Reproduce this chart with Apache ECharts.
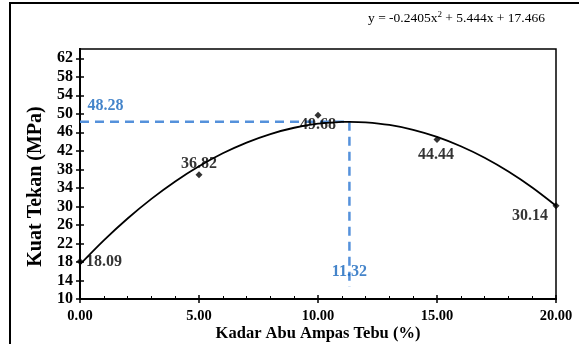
<!DOCTYPE html>
<html>
<head>
<meta charset="utf-8">
<script src="https://cdn.jsdelivr.net/npm/echarts@6/dist/echarts.min.js"></script>
<style>html,body{margin:0;padding:0;background:#fff}#c{width:579px;height:344px}</style>
</head>
<body>
<div id="c"></div>
<script>
// Measured points
const xValues = [0, 5, 10, 15, 20];
const yValues = [18.09, 36.82, 49.68, 44.44, 30.14];
const pointLabels = ['18.09', '36.82', '49.68', '44.44', '30.14'];
// Trend curve
const curveX = [0, 1, 2, 3, 4, 5, 6, 7, 8, 9, 10, 11, 11.32, 12, 13, 14, 15, 16, 17, 18, 19, 20];
const curveY = [17.47, 22.67, 27.39, 31.63, 35.40, 38.67, 41.47, 43.79, 45.63, 46.99, 47.86, 48.25, 48.28, 48.17, 47.60, 46.55, 45.02, 43.00, 40.52, 37.54, 34.09, 30.15];
// Optimum
const optX = 11.32;
const optY = 48.28;
const optLineBottom = 12.6;
// Axes
const yTicks = [10, 14, 18, 22, 26, 30, 34, 38, 42, 46, 50, 54, 58, 62];
const xTicks = [0, 5, 10, 15, 20];
const xTickLabels = ['0.00', '5.00', '10.00', '15.00', '20.00'];
const xName = 'Kadar Abu Ampas Tebu (%)';
const yName = 'Kuat Tekan (MPa)';

const FONT = '"Liberation Serif", "Times New Roman", serif';
const BLUE = '#5591db';
const BLUE_TXT = '#1565bd';

const labelOffsets = [[24, 0], [0, -11], [0, 10], [-1, 15], [-26, 10]];

const chart = echarts.init(document.getElementById('c'), null, {renderer: 'canvas'});
const axisCommon = {
  type: 'value',
  axisLine: {show: true, lineStyle: {color: '#000', width: 2}},
  splitLine: {show: false}
};
const option = {
  animation: false,
  backgroundColor: '#fff',
  grid: {left: 80, right: 23, top: 49, bottom: 45, outerBoundsMode: 'none', containLabel: false, show: true, borderColor: '#000', borderWidth: 1.5, backgroundColor: 'transparent'},
  xAxis: [
    Object.assign({}, axisCommon, {
      min: 0, max: 20, interval: 5,
      axisTick: {show: true, length: 4, lineStyle: {color: '#000', width: 1.5}, customValues: xTicks},
      axisLabel: {customValues: xTicks, formatter: v => xTickLabels[xTicks.indexOf(v)], color: '#000', fontFamily: FONT, fontWeight: 'bold', fontSize: 14.5, margin: 10}
    }),
    Object.assign({}, axisCommon, {
      min: 0, max: 20, interval: 5, position: 'bottom',
      axisTick: {show: true, inside: true, length: 4, lineStyle: {color: '#000', width: 1.5}},
      minorTick: {show: true, splitNumber: 5, length: 3, lineStyle: {color: '#000', width: 1}},
      axisLabel: {show: false}
    })
  ],
  yAxis: [
    Object.assign({}, axisCommon, {
      min: 10, max: 64, interval: 4,
      axisTick: {show: true, length: 4, lineStyle: {color: '#000', width: 1.5}, customValues: yTicks},
      axisLabel: {customValues: yTicks, color: '#000', fontFamily: FONT, fontWeight: 'bold', fontSize: 16, margin: 7}
    }),
    Object.assign({}, axisCommon, {
      min: 10, max: 64, interval: 4, position: 'left',
      axisTick: {show: true, inside: true, length: 4, lineStyle: {color: '#000', width: 1.5}, customValues: yTicks},
      axisLabel: {show: false}
    })
  ],
  graphic: [
    {type: 'rect', shape: {x: 10, y: 3, width: 800, height: 600}, style: {fill: 'none', stroke: '#000', lineWidth: 2}, silent: true},
    {type: 'text', x: 35.5, y: 186.5, rotation: Math.PI / 2, style: {
      text: yName, align: 'center', verticalAlign: 'middle',
      fontFamily: FONT, fontWeight: 'bold', fontSize: 20, fill: '#000'
    }},
    {type: 'text', x: 318, y: 334, style: {
      text: xName, align: 'center', verticalAlign: 'middle',
      fontFamily: FONT, fontWeight: 'bold', fontSize: 16.5, fill: '#000'
    }},
    {type: 'text', left: 368, top: 10, style: {
      text: '{a|y = -0.2405x}{s|2}{a| + 5.444x + 17.466}',
      rich: {
        a: {fontFamily: FONT, fontSize: 13.5, fill: '#000', verticalAlign: 'bottom'},
        s: {fontFamily: FONT, fontSize: 9, fill: '#000', verticalAlign: 'top', padding: [0, 0, 6, 0]}
      }
    }}
  ],
  series: [
    {
      type: 'line', smooth: 0.3, symbol: 'none',
      data: curveX.map((x, i) => [x, curveY[i]]),
      lineStyle: {color: '#000', width: 1.8}, z: 3
    },
    {
      type: 'line', symbol: 'none',
      data: [[0, optY], [optX, optY]],
      lineStyle: {color: BLUE, width: 2.5, type: [9, 6]}, z: 2
    },
    {
      type: 'line', symbol: 'none',
      data: [[optX, optY], [optX, optLineBottom]],
      lineStyle: {color: BLUE, width: 2.5, type: [9, 6]}, z: 2
    },
    {
      type: 'scatter', symbol: 'circle', symbolSize: 2, silent: true,
      itemStyle: {color: 'rgba(0,0,0,0)'},
      data: [
        {value: [0, optY], label: {show: true, formatter: String(optY), position: 'inside', offset: [25.5, -16]}},
        {value: [optX, optLineBottom], label: {show: true, formatter: String(optX), position: 'inside', offset: [0, -15]}}
      ],
      label: {color: BLUE_TXT, fontFamily: FONT, fontWeight: 'bold', fontSize: 16}, z: 6
    },
    {
      type: 'scatter', symbol: 'diamond', symbolSize: 7,
      itemStyle: {color: '#000'},
      data: xValues.map((x, i) => ({
        value: [x, yValues[i]],
        label: {show: true, formatter: pointLabels[i], position: 'inside', offset: labelOffsets[i]}
      })),
      label: {color: '#000', fontFamily: FONT, fontWeight: 'bold', fontSize: 16},
      z: 5
    }
  ]
};
chart.setOption(option);
</script>
</body>
</html>
